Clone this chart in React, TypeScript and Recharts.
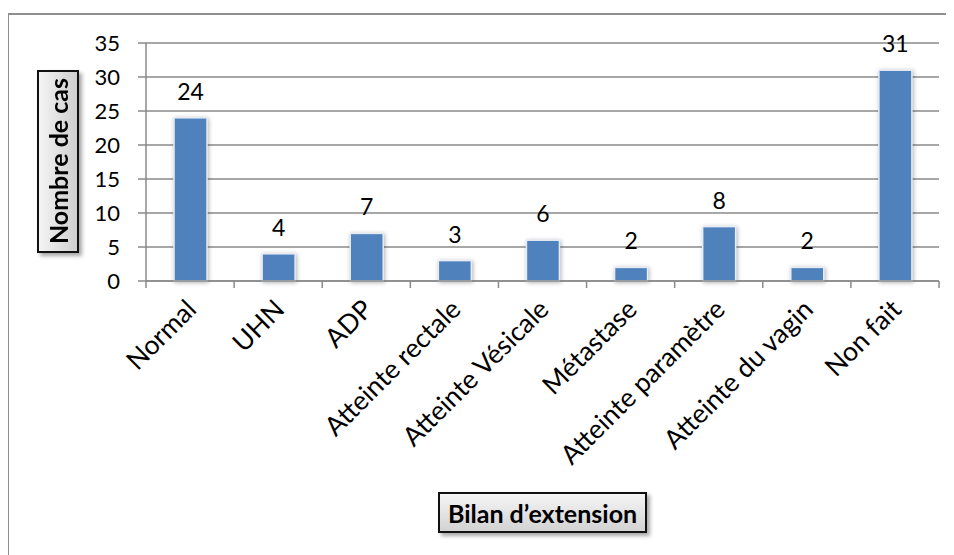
import { BarChart, Bar, XAxis, YAxis, CartesianGrid, LabelList } from "recharts";

const categories = [
  "Normal",
  "UHN",
  "ADP",
  "Atteinte rectale",
  "Atteinte Vésicale",
  "Métastase",
  "Atteinte paramètre",
  "Atteinte du vagin",
  "Non fait",
];
const cases = [24, 4, 7, 3, 6, 2, 8, 2, 31];
const yTicks = [0, 5, 10, 15, 20, 25, 30, 35];

const data = categories.map((name, i) => ({ name, cas: cases[i] }));

const FONT = "Lato, 'Open Sans', sans-serif";
const GRID = "#8a8a8a";
const PLOT_W = 793;
const BAND = PLOT_W / categories.length;

function CategoryTick(props: any) {
  const { x, y, payload, index } = props;
  const left = x - BAND / 2;
  const ax = x + 8;
  const ay = y + 22;
  return (
    <g>
      <line x1={left} y1={y - 8} x2={left} y2={y - 1} stroke={GRID} strokeWidth={1.5} />
      {index === categories.length - 1 && (
        <line x1={left + BAND} y1={y - 8} x2={left + BAND} y2={y - 1} stroke={GRID} strokeWidth={1.5} />
      )}
      <text
        x={ax}
        y={ay}
        textAnchor="end"
        transform={`rotate(-45 ${ax} ${ay})`}
        fontFamily={FONT}
        fontSize={26.5}
        fill="#000"
      >
        {payload.value}
      </text>
    </g>
  );
}

function ShadowBar(props: any) {
  const { x, y, width, height, fill } = props;
  if (!height) return null;
  return (
    <rect
      x={x}
      y={y}
      width={width}
      height={height}
      fill={fill}
      stroke="#e6edf6"
      strokeWidth={1.5}
      style={{ filter: "drop-shadow(1px 1px 2px rgba(0,0,0,0.3))" }}
    />
  );
}

export default function App() {
  return (
    <div style={{ position: "relative", width: 946, height: 547 }}>
      <div
        style={{
          position: "absolute",
          left: -1,
          top: 5,
          width: 947,
          height: 542,
          borderTop: "2px solid #8e8e8e",
          borderLeft: "2px solid #8e8e8e",
          boxSizing: "border-box",
        }}
      />
      <div style={{ position: "absolute", left: 0, top: 0 }}>
        <BarChart
          width={946}
          height={547}
          data={data}
          margin={{ top: 35, right: 15, bottom: 0, left: 0 }}
          barCategoryGap={0}
        >
          <CartesianGrid vertical={false} stroke={GRID} strokeWidth={1.5} />
          <XAxis
            dataKey="name"
            height={274}
            interval={0}
            axisLine={{ stroke: GRID, strokeWidth: 1.5 }}
            tickLine={false}
            tick={<CategoryTick />}
          />
          <YAxis
            width={138}
            domain={[0, 35]}
            ticks={yTicks}
            interval={0}
            tickSize={8}
            tickMargin={18}
            axisLine={{ stroke: GRID, strokeWidth: 1.5 }}
            tickLine={{ stroke: GRID, strokeWidth: 1.5 }}
            tick={{ fill: "#000", fontSize: 22, fontFamily: FONT }}
          />
          <Bar dataKey="cas" fill="#4f81bd" barSize={33} isAnimationActive={false} shape={<ShadowBar />}>
            <LabelList
              dataKey="cas"
              position="top"
              offset={18}
              fill="#000"
              fontSize={23}
              fontFamily={FONT}
            />
          </Bar>
        </BarChart>
      </div>
      <div
        style={{
          position: "absolute",
          left: 29,
          top: 62,
          width: 42,
          height: 183,
          boxSizing: "border-box",
          border: "2px solid #111",
          background: "linear-gradient(to right, #f4f4f4, #cfcfcf)",
          boxShadow: "3px 3px 4px rgba(0,0,0,0.35)",
          display: "flex",
          alignItems: "center",
          justifyContent: "center",
        }}
      >
        <span
          style={{
            writingMode: "vertical-rl",
            transform: "rotate(180deg)",
            fontFamily: FONT,
            fontWeight: 700,
            fontSize: 25,
            whiteSpace: "nowrap",
          }}
        >
          Nombre de cas
        </span>
      </div>
      <div
        style={{
          position: "absolute",
          left: 430,
          top: 484,
          width: 209,
          height: 41,
          boxSizing: "border-box",
          border: "2px solid #111",
          background: "linear-gradient(to bottom, #f6f6f6, #d2d2d2)",
          boxShadow: "3px 3px 4px rgba(0,0,0,0.35)",
          display: "flex",
          alignItems: "center",
          justifyContent: "center",
          fontFamily: FONT,
          fontWeight: 700,
          fontSize: 25,
          whiteSpace: "nowrap",
        }}
      >
        Bilan d’extension
      </div>
    </div>
  );
}
